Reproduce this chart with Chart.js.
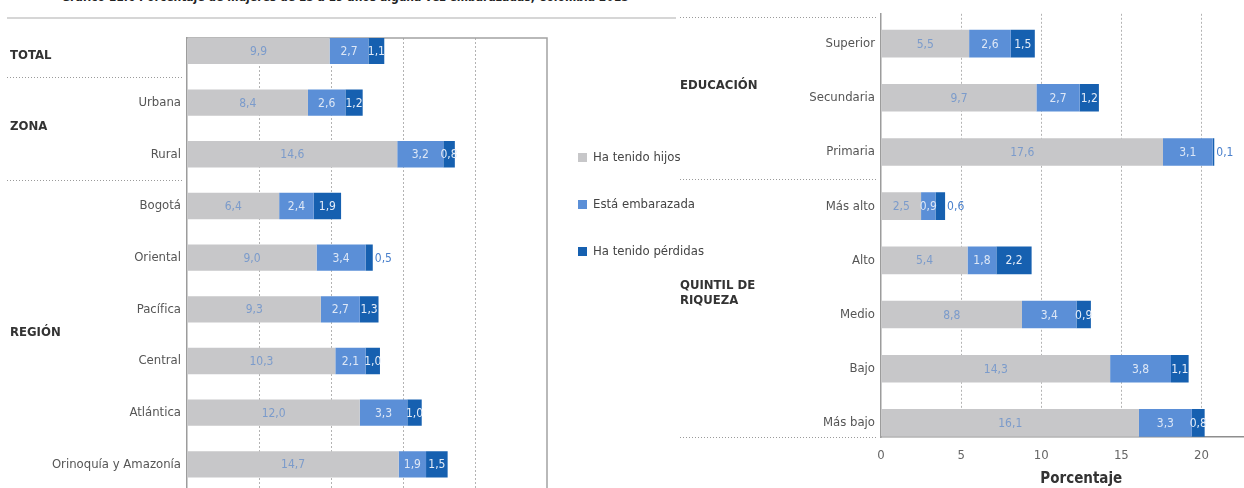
<!DOCTYPE html>
<html lang="es">
<head>
<meta charset="utf-8">
<title>Mujeres de 15 a 19 años alguna vez embarazadas</title>
<script src="https://cdn.jsdelivr.net/npm/chart.js@4"></script>
<style>
  html, body { margin: 0; padding: 0; width: 1244px; height: 488px; overflow: hidden; background: #fff; }
  body { position: relative; font-family: 'Liberation Sans Narrow', 'DejaVu Sans Condensed', sans-serif; }
  #titulo { position: absolute; left: 0; top: -10px; width: 690px; text-align: center; font-weight: bold; font-size: 12px; color: #222; white-space: nowrap; }
  #linea { position: absolute; left: 7px; top: 17px; width: 669px; border-top: 2px solid #d6d6d6; }
  #izq { position: absolute; left: 0; top: 0; }
  #der { position: absolute; left: 680px; top: 0; }
  #leyenda { position: absolute; left: 578px; top: 149px; font-size: 13px; color: #444; }
  #leyenda div { height: 16px; line-height: 16px; margin-bottom: 31px; white-space: nowrap; }
  #leyenda span { display: inline-block; width: 9px; height: 9px; margin-right: 6px; vertical-align: -1px; }
</style>
</head>
<body>
<div id="titulo">Gráfico 11.6 Porcentaje de mujeres de 15 a 19 años alguna vez embarazadas, Colombia 2015</div>
<div id="linea"></div>
<canvas id="izq" width="560" height="504"></canvas>
<canvas id="der" width="620" height="488"></canvas>
<div id="leyenda"></div>
<script>
const FONT = "'Liberation Sans Narrow', 'DejaVu Sans Condensed', sans-serif";

const series = ['Ha tenido hijos', 'Está embarazada', 'Ha tenido pérdidas'];
const colors = ['#c7c7c9', '#5b8fd7', '#1660b0'];
const labelColors = ['#7b9bcb', '#dde7f6', '#e4ecf8'];
const outsideColor = '#4a80cc';

// left panel: total, zona, región
const leftCategories = ['', 'Urbana', 'Rural', 'Bogotá', 'Oriental', 'Pacífica', 'Central', 'Atlántica', 'Orinoquía y Amazonía'];
const leftHijos = [9.9, 8.4, 14.6, 6.4, 9.0, 9.3, 10.3, 12.0, 14.7];
const leftEmbarazada = [2.7, 2.6, 3.2, 2.4, 3.4, 2.7, 2.1, 3.3, 1.9];
const leftPerdidas = [1.1, 1.2, 0.8, 1.9, 0.5, 1.3, 1.0, 1.0, 1.5];
const leftGroupNames = ['TOTAL', 'ZONA', 'REGIÓN'];
const leftGroupStart = [0, 1, 3];
const leftGroupEnd = [0, 2, 8];

// right panel: educación, quintil de riqueza
const rightCategories = ['Superior', 'Secundaria', 'Primaria', 'Más alto', 'Alto', 'Medio', 'Bajo', 'Más bajo'];
const rightHijos = [5.5, 9.7, 17.6, 2.5, 5.4, 8.8, 14.3, 16.1];
const rightEmbarazada = [2.6, 2.7, 3.1, 0.9, 1.8, 3.4, 3.8, 3.3];
const rightPerdidas = [1.5, 1.2, 0.1, 0.6, 2.2, 0.9, 1.1, 0.8];
const rightGroupNames = ['EDUCACIÓN', 'QUINTIL DE\nRIQUEZA'];
const rightGroupStart = [0, 3];
const rightGroupEnd = [2, 7];

const xTickStep = 5;
const xMax = 25;

// legend
document.getElementById('leyenda').innerHTML = series
  .map((s, i) => `<div><span style="background:${colors[i]}"></span>${s}</div>`).join('');

const fmt = v => v.toFixed(1).replace('.', ',');

const valueLabels = {
  id: 'valueLabels',
  afterDatasetsDraw(chart) {
    const ctx = chart.ctx;
    ctx.save();
    ctx.font = '12px ' + FONT;
    ctx.textBaseline = 'middle';
    chart.data.datasets.forEach((ds, d) => {
      chart.getDatasetMeta(d).data.forEach((bar, i) => {
        const txt = fmt(ds.data[i].x);
        const w = bar.x - bar.base;
        if (w < 10) {
          ctx.textAlign = 'left';
          ctx.fillStyle = outsideColor;
          ctx.fillText(txt, bar.x + 2, bar.y + 1);
        } else {
          ctx.textAlign = 'center';
          ctx.fillStyle = labelColors[d];
          ctx.fillText(txt, (bar.x + bar.base) / 2, bar.y + 1);
        }
      });
    });
    ctx.restore();
  }
};

const groups = {
  id: 'groups',
  afterDraw(chart, args, opts) {
    const {ctx, chartArea, scales: {y}} = chart;
    ctx.save();
    ctx.strokeStyle = '#9a9a9a';
    ctx.lineWidth = 1;
    ctx.setLineDash([1, 2]);
    opts.lines.forEach(v => {
      const py = Math.round(y.getPixelForValue(v)) + 0.5;
      ctx.beginPath();
      ctx.moveTo(opts.x0, py);
      ctx.lineTo(chartArea.left - 3, py);
      ctx.stroke();
    });
    ctx.setLineDash([]);
    ctx.font = 'bold 13px ' + FONT;
    ctx.fillStyle = '#333';
    ctx.textAlign = 'left';
    ctx.textBaseline = 'middle';
    opts.names.forEach((n, g) => {
      const rows = n.split('\n');
      const mid = y.getPixelForValue((opts.start[g] + opts.end[g]) / 2) + opts.dy[g];
      rows.forEach((t, k) => ctx.fillText(t, opts.x, mid + (k - (rows.length - 1) / 2) * 15));
    });
    ctx.restore();
  }
};

const frame = {
  id: 'frame',
  beforeDatasetsDraw(chart, args, opts) {
    if (!opts.show) return;
    const {ctx, chartArea: a} = chart;
    ctx.save();
    ctx.strokeStyle = '#a2a2a2';
    ctx.lineWidth = 1.5;
    ctx.beginPath();
    ctx.moveTo(a.left, a.top);
    ctx.lineTo(a.right, a.top);
    ctx.lineTo(a.right, a.bottom);
    ctx.stroke();
    ctx.restore();
  }
};

function makeChart(id, cats, values, cfg) {
  return new Chart(document.getElementById(id), {
    type: 'bar',
    data: {
      datasets: series.map((name, d) => ({
        label: name,
        data: values[d].map((v, i) => ({x: v, y: i})),
        backgroundColor: colors[d],
        borderWidth: 0,
        categoryPercentage: 1,
        barPercentage: 0.51
      }))
    },
    options: {
      indexAxis: 'y',
      responsive: false,
      animation: false,
      layout: {padding: cfg.padding},
      scales: {
        x: {
          type: 'linear',
          stacked: true,
          min: 0,
          max: xMax,
          ticks: {
            display: cfg.showTicks,
            stepSize: xTickStep,
            color: '#666',
            padding: 11,
            font: {family: FONT, size: 13}
          },
          grid: {
            drawTicks: false,
            color: c => (c.tick && (c.tick.value === 0 || c.tick.value === xMax)) ? 'rgba(0,0,0,0)' : '#b3b3b3'
          },
          border: {display: cfg.showTicks, color: '#8e8e8e', width: 1.5, dash: [2, 2]},
          title: {
            display: cfg.showTicks,
            text: 'Porcentaje',
            color: '#333',
            font: {family: FONT, size: 15, weight: 'bold'},
            padding: {top: 2, bottom: 0}
          },
          afterFit: s => { s.height = cfg.xHeight; }
        },
        y: {
          type: 'linear',
          stacked: true,
          reverse: true,
          offset: false,
          bounds: 'data',
          min: cfg.yMin,
          max: cfg.yMax,
          afterBuildTicks: s => { s.ticks = cats.map((c, i) => ({value: i})); },
          ticks: {
            autoSkip: false,
            callback: v => cats[v],
            color: '#555',
            padding: 6,
            font: {family: FONT, size: 13}
          },
          grid: {display: false, drawTicks: false, offset: false},
          border: {display: true, color: '#9c9c9c', width: 1.5},
          afterFit: s => { s.width = cfg.yWidth; }
        }
      },
      plugins: {
        legend: {display: false},
        tooltip: {enabled: false},
        frame: {show: cfg.frame},
        groups: cfg.groups
      }
    },
    plugins: [frame, valueLabels, groups]
  });
}

makeChart('izq', leftCategories, [leftHijos, leftEmbarazada, leftPerdidas], {
  padding: {top: 38, right: 13, bottom: 0, left: 0},
  yMin: -0.25, yMax: 8.5, yWidth: 187, xHeight: 0,
  showTicks: false, frame: true,
  groups: {
    names: leftGroupNames, start: leftGroupStart, end: leftGroupEnd,
    lines: leftGroupEnd.slice(0, -1).map(e => e + 0.5),
    x: 10, x0: 7, dy: [5, -2, -3]
  }
});

makeChart('der', rightCategories, [rightHijos, rightEmbarazada, rightPerdidas], {
  padding: {top: 12, right: 11.5, bottom: 0, left: 0},
  yMin: -0.55, yMax: 7.26, yWidth: 201, xHeight: 51,
  showTicks: true, frame: false,
  groups: {
    names: rightGroupNames, start: rightGroupStart, end: rightGroupEnd,
    lines: [-0.55 + 0.05].concat(rightGroupEnd.slice(0, -1).map(e => e + 0.5), [7.26]),
    x: 0, x0: 0, dy: [-12, -21]
  }
});
</script>
</body>
</html>
